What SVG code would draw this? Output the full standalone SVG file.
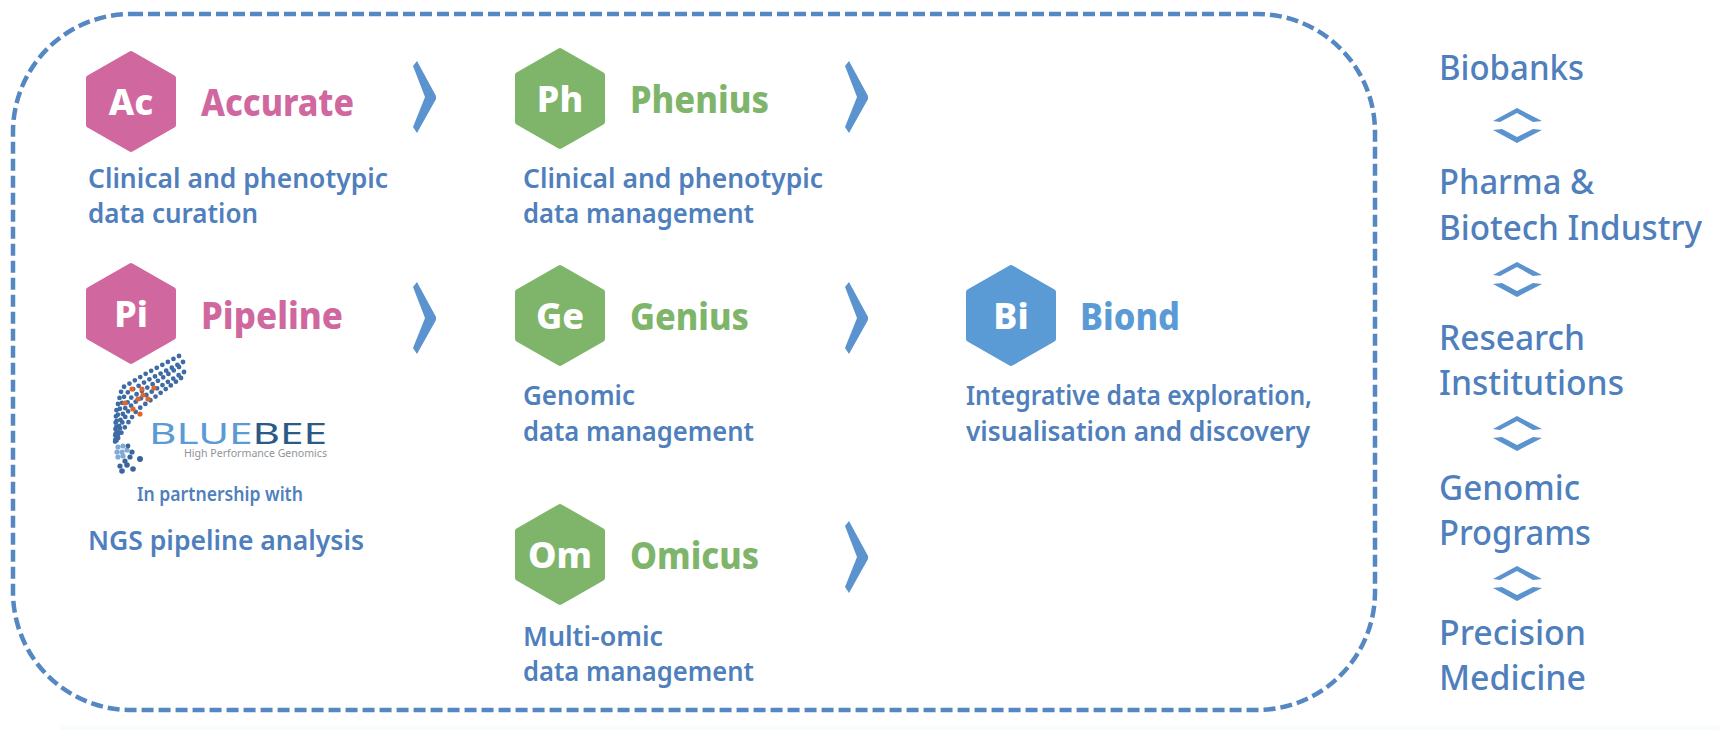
<svg xmlns="http://www.w3.org/2000/svg" width="1719" height="730" viewBox="0 0 1719 730">
<style>
text{font-family:"Noto Sans","Liberation Sans",sans-serif}
.d{fill:#4f7fbc;font-size:27px;font-weight:600}
.r{fill:#4f7fbc;font-size:35px;font-weight:500}
.h{fill:#fff;font-size:36px;font-weight:800;text-anchor:middle}
.t{font-size:37px;font-weight:800}
.pink{fill:#d0689f}.green{fill:#7fb56b}.blue{fill:#5b9bd5}
.hp{fill:#d0689f;stroke:#d0689f}.hg{fill:#7fb56b;stroke:#7fb56b}.hb{fill:#5b9bd5;stroke:#5b9bd5}
.chev{fill:#5b93cf}
.row{fill:none;stroke:#3d6ba4;stroke-width:4.8;stroke-linecap:round;stroke-dasharray:0 6.3}
.c{fill:#3a659c}.o{fill:#e0662a}.l{fill:#7fa9d8}
</style>
<defs>
<polygon id="hex" points="45,3 87,27 87,74 45,98 3,74 3,27" stroke-width="6" stroke-linejoin="round"/>
<polygon id="cv" points="413,66 417,61 436,96 436,99 417,133 413,127 425,97"/>
<g id="dc"><polygon points="1493,121 1517,108 1542,121 1533,122 1517,113 1500,122"/><polygon points="1493,130 1502,129 1517,137 1533,129 1542,130 1517,143"/></g>
</defs>
<rect width="1719" height="730" fill="#fff"/>
<rect x="60" y="725" width="1659" height="5" fill="#f9fcfd"/>
<g id="connectors" class="chev">
<use href="#cv"/>
<use href="#cv" y="221"/>
<use href="#cv" x="432"/>
<use href="#cv" x="432" y="221"/>
<use href="#cv" x="432" y="460"/>
<use href="#dc"/>
<use href="#dc" y="154"/>
<use href="#dc" y="308"/>
<use href="#dc" y="458"/>
</g>
<rect id="frame" x="13" y="14" width="1362" height="696" rx="118" ry="118" fill="none" stroke="#5587c3" stroke-width="4.5" stroke-dasharray="12 5"/>
<g id="accurate">
<use href="#hex" x="86" y="51" class="hp"/>
<text class="h" x="131" y="115">Ac</text>
<text class="t pink" x="201" y="116" textLength="153" lengthAdjust="spacingAndGlyphs">Accurate</text>
<text class="d" x="88" y="188" textLength="300" lengthAdjust="spacingAndGlyphs">Clinical and phenotypic</text>
<text class="d" x="88" y="223" textLength="170" lengthAdjust="spacingAndGlyphs">data curation</text>
</g>
<g id="phenius">
<use href="#hex" x="515" y="48" class="hg"/>
<text class="h" x="560" y="112">Ph</text>
<text class="t green" x="630" y="113" textLength="139" lengthAdjust="spacingAndGlyphs">Phenius</text>
<text class="d" x="523" y="188" textLength="300" lengthAdjust="spacingAndGlyphs">Clinical and phenotypic</text>
<text class="d" x="523" y="223" textLength="231" lengthAdjust="spacingAndGlyphs">data management</text>
</g>
<g id="pipeline">
<use href="#hex" x="86" y="263" class="hp"/>
<text class="h" x="131" y="327">Pi</text>
<text class="t pink" x="201" y="329" textLength="142" lengthAdjust="spacingAndGlyphs">Pipeline</text>
<g id="bluebee-logo">
<path class="row" d="M179 356L147 373L122 388L116 412L115 445"/>
<path class="row" d="M183 362L150 379L125 394L117 417L115 444"/>
<path class="row" d="M179 367L153 384L129 399L120 421L116 443"/>
<path class="row" d="M184 372L156 389L132 404L121 425L116 442"/>
<path class="row" d="M181 378L159 394L137 410L123 430L117 440"/>
<g class="l"><circle cx="118" cy="447" r="2.6"/><circle cx="123" cy="446" r="2.6"/><circle cx="117" cy="452" r="2.6"/><circle cx="122" cy="452" r="2.6"/><circle cx="127" cy="450" r="2.6"/><circle cx="118" cy="457" r="2.6"/><circle cx="123" cy="456" r="2.6"/></g>
<g class="c"><circle cx="140" cy="459" r="3"/><circle cx="133" cy="469" r="2.8"/><circle cx="122" cy="471" r="2.8"/><circle cx="127" cy="465" r="2.8"/><circle cx="120" cy="466" r="2.6"/><circle cx="132" cy="452" r="2.6"/><circle cx="130" cy="457" r="2.6"/><circle cx="125" cy="461" r="2.6"/><circle cx="128" cy="446" r="2.4"/></g>
<g class="o"><circle cx="132" cy="389" r="2.6"/><circle cx="142" cy="389" r="2.6"/><circle cx="154" cy="388" r="2.6"/><circle cx="138" cy="399" r="2.6"/><circle cx="148" cy="399" r="2.6"/><circle cx="143" cy="395" r="2.6"/><circle cx="125" cy="403" r="2.6"/><circle cx="133" cy="409" r="2.6"/><circle cx="140" cy="414" r="2.6"/></g>
<text x="149" y="444" font-size="29" font-weight="400" textLength="178" lengthAdjust="spacingAndGlyphs"><tspan fill="#5b9bd5">BLUE</tspan><tspan fill="#2b5a86">BEE</tspan></text>
<text x="184" y="457" font-size="11" fill="#8f9499" textLength="143" lengthAdjust="spacingAndGlyphs">High Performance Genomics</text>
</g>
<text x="137" y="501" font-size="20" font-weight="600" fill="#4f7fbc" textLength="166" lengthAdjust="spacingAndGlyphs">In partnership with</text>
<text class="d" x="88" y="550" textLength="276" lengthAdjust="spacingAndGlyphs">NGS pipeline analysis</text>
</g>
<g id="genius">
<use href="#hex" x="515" y="265" class="hg"/>
<text class="h" x="560" y="329">Ge</text>
<text class="t green" x="630" y="330" textLength="119" lengthAdjust="spacingAndGlyphs">Genius</text>
<text class="d" x="523" y="405" textLength="112" lengthAdjust="spacingAndGlyphs">Genomic</text>
<text class="d" x="523" y="441" textLength="231" lengthAdjust="spacingAndGlyphs">data management</text>
</g>
<g id="omicus">
<use href="#hex" x="515" y="504" class="hg"/>
<text class="h" x="560" y="568">Om</text>
<text class="t green" x="630" y="569" textLength="129" lengthAdjust="spacingAndGlyphs">Omicus</text>
<text class="d" x="523" y="646" textLength="140" lengthAdjust="spacingAndGlyphs">Multi-omic</text>
<text class="d" x="523" y="681" textLength="231" lengthAdjust="spacingAndGlyphs">data management</text>
</g>
<g id="biond">
<use href="#hex" x="966" y="265" class="hb"/>
<text class="h" x="1011" y="329">Bi</text>
<text class="t blue" x="1080" y="330" textLength="100" lengthAdjust="spacingAndGlyphs">Biond</text>
<text class="d" x="966" y="405" textLength="346" lengthAdjust="spacingAndGlyphs">Integrative data exploration,</text>
<text class="d" x="966" y="441" textLength="344" lengthAdjust="spacingAndGlyphs">visualisation and discovery</text>
</g>
<g id="stakeholders">
<text class="r" x="1439" y="80" textLength="145" lengthAdjust="spacingAndGlyphs">Biobanks</text>
<text class="r" x="1439" y="194" textLength="155" lengthAdjust="spacingAndGlyphs">Pharma &amp;</text>
<text class="r" x="1439" y="240" textLength="263" lengthAdjust="spacingAndGlyphs">Biotech Industry</text>
<text class="r" x="1439" y="350" textLength="146" lengthAdjust="spacingAndGlyphs">Research</text>
<text class="r" x="1439" y="395" textLength="185" lengthAdjust="spacingAndGlyphs">Institutions</text>
<text class="r" x="1439" y="500" textLength="141" lengthAdjust="spacingAndGlyphs">Genomic</text>
<text class="r" x="1439" y="545" textLength="152" lengthAdjust="spacingAndGlyphs">Programs</text>
<text class="r" x="1439" y="645" textLength="147" lengthAdjust="spacingAndGlyphs">Precision</text>
<text class="r" x="1439" y="690" textLength="147" lengthAdjust="spacingAndGlyphs">Medicine</text>
</g>
</svg>
